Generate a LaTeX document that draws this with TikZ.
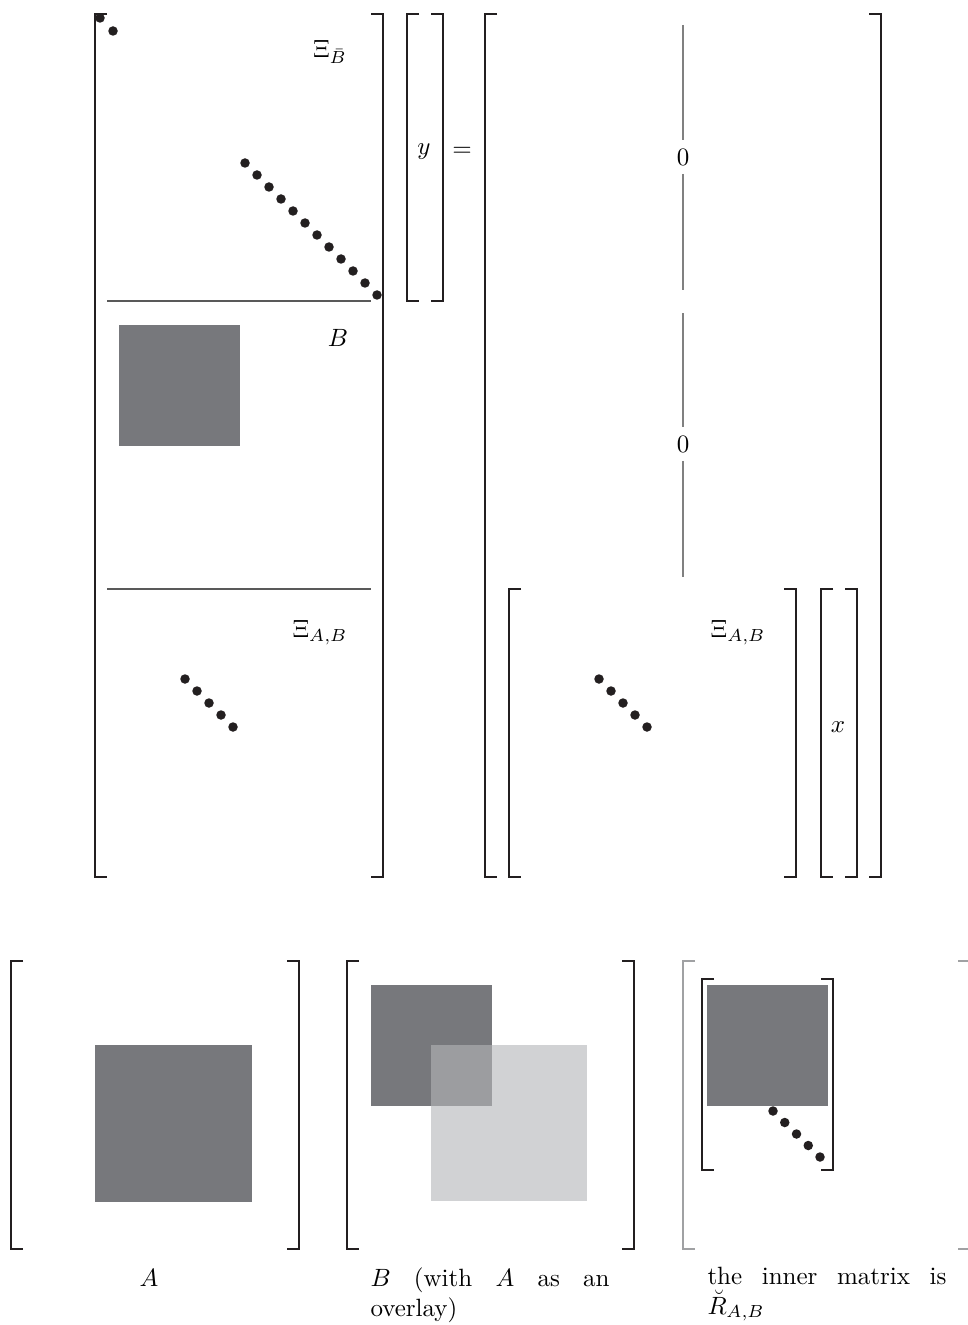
\documentclass[tikz,border=0pt]{standalone}
\usepackage{amsmath,amssymb}
\usepackage{xcolor}
\definecolor{ink}{HTML}{231F20}
\definecolor{blockgray}{HTML}{77787C}
\definecolor{overgray}{HTML}{B4B5B8}
\definecolor{ghost}{HTML}{A0A1A3}
\usepackage{tikz}
\usetikzlibrary{positioning,fit,calc}

\begin{document}
\begin{tikzpicture}[x=0.4pt, y=-0.4pt,
    every node/.style={font=\normalsize},
    mat/.style={inner sep=0pt, outer sep=0pt},
    brk/.style={draw=ink, line width=1.15pt},
    ghostbrk/.style={draw=ghost, line width=1.15pt},
    block/.style={fill=blockgray},
    shadeA/.style={fill=overgray, fill opacity=0.61},
    rule/.style={draw=black!65, line width=0.45pt},
    zline/.style={draw=black!50, line width=0.5pt},
    zero/.style={inner sep=3.3pt},
    lbl/.style={inner sep=1pt},
    captext/.style={text width=95.6pt, align=justify, inner sep=0pt,
                anchor=base west}]
  \useasboundingbox (0,0) rectangle (967,1325);

  % matrices of the system
  \node[mat, fit={(95,14) (383,877)}]   (Lmat) {};
  \node[mat, fit={(407,14) (443,301)}]  (yvec) {};
  \node[mat, fit={(485,14) (881,877)}]  (Rmat) {};
  \node[mat, fit={(509,589) (796,877)}] (Xmat) {};
  \node[mat, fit={(821,589) (857,877)}] (xvec) {};
  % the three small pictures
  \node[mat, fit={(11,961) (299,1249)}]   (Amat) {};
  \node[mat, fit={(347,961) (634,1249)}]  (Bmat) {};
  \node[mat, fit={(683,961) (970,1249)}]  (Omat) {};
  \node[mat, fit={(702,979) (833,1170)}]  (Rin) {};

  \foreach \m in {Lmat,yvec,Rmat,Xmat,xvec,Amat,Bmat,Rin}
    \draw[brk] (\m.north west) ++(12,0) -| (\m.south west) -- ++(12,0)
               (\m.north east) ++(-12,0) -| (\m.south east) -- ++(-12,0);
  \draw[ghostbrk] (Omat.north west) ++(12,0) -| (Omat.south west) -- ++(12,0)
                  (Omat.north east) ++(-12,0) -| (Omat.south east) -- ++(-12,0);

  % blocks
  \fill[block] (119,325) rectangle (240,446);
  \fill[block] (95,1045) rectangle (252,1202);
  \fill[block] (371,985) rectangle (492,1106);
  \fill[shadeA] (431,1045) rectangle (587,1201);
  \fill[block] (707,985) rectangle (828,1106);

  % row separators
  \draw[rule] (107,301) -- (371,301);
  \draw[rule] (107,589) -- (371,589);

  % diagonals
  \foreach \i in {0,1}
    \fill[ink] ({100+13*\i},{18+13*\i}) circle[radius=1.9pt];
  \foreach \i in {0,...,11}
    \fill[ink] ({245+12*\i},{163+12*\i}) circle[radius=1.9pt];
  \foreach \i in {0,...,4} {
    \fill[ink] ({185+12*\i},{679+12*\i}) circle[radius=1.9pt];
    \fill[ink] ({599+12*\i},{679+12*\i}) circle[radius=1.9pt];
    \fill[ink] ({773+11.75*\i},{1111+11.5*\i}) circle[radius=1.9pt];
  }

  % labels
  \node[lbl] (xibar) at (330,52)  {$\Xi_{\bar B}$};
  \node[lbl] (blbl)  at (338,338) {$B$};
  \node[lbl] (xiL)   at (320,633) {$\Xi_{A,B}$};
  \node[lbl] (xiR)   at (738,633) {$\Xi_{A,B}$};
  \node[lbl] (ylbl)  at (424,152) {$y$};
  \node[lbl] (eq)    at (462,152) {$=$};
  \node[lbl] (xlbl)  at (838,727) {$x$};

  % zero blocks
  \coordinate (z1a) at (683,25);  \coordinate (z1b) at (683,290);
  \coordinate (z2a) at (683,313); \coordinate (z2b) at (683,577);
  \node[zero] (zero1) at (683,157) {$0$};
  \node[zero] (zero2) at (683,444) {$0$};
  \draw[zline] (z1a) -- (zero1) -- (z1b);
  \draw[zline] (z2a) -- (zero2) -- (z2b);

  % captions
  \node[inner sep=0pt, anchor=base] (capA) at (149,1286) {$A$};
  \node[captext] (capB) at (370,1286) {$B$ (with $A$ as an\linebreak overlay)};
  \node[captext] (capR) at (707,1284) {the inner matrix is\linebreak $\breve{R}_{A,B}$};
\end{tikzpicture}
\end{document}
